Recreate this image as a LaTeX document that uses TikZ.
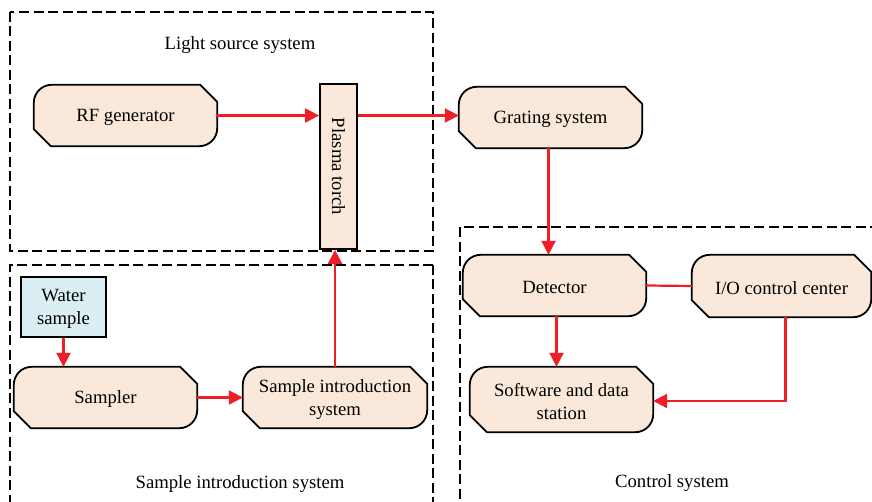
\documentclass[tikz,border=0pt]{standalone}
\usepackage{fontspec}
\setmainfont{Liberation Serif}
\usetikzlibrary{arrows.meta,backgrounds}

\definecolor{boxfill}{RGB}{250,233,218}
\definecolor{waterfill}{RGB}{218,238,243}
\definecolor{linkred}{RGB}{237,30,38}

% corner sizes of the process boxes: rounded NW/SE, chamfered NE/SW
\newlength\procr \setlength\procr{18pt}
\newlength\procq \setlength\procq{8pt}% control offset, about 0.45 r
\newlength\procc \setlength\procc{17pt}
\newcommand\procoutline[1]{%
  \filldraw[procline]
    ([yshift=-\procr]#1.north west)
      .. controls ([yshift=-\procq]#1.north west) and ([xshift=\procq]#1.north west)
      .. ([xshift=\procr]#1.north west)
    -- ([xshift=-\procc]#1.north east) -- ([yshift=-\procc]#1.north east)
    -- ([yshift=\procr]#1.south east)
      .. controls ([yshift=\procq]#1.south east) and ([xshift=-\procq]#1.south east)
      .. ([xshift=-\procr]#1.south east)
    -- ([xshift=\procc]#1.south west) -- ([yshift=\procc]#1.south west) -- cycle;}

\tikzset{
  txt/.style={font=\fontsize{18.7}{23}\selectfont, align=center},
  boxtext/.style={txt, inner sep=0pt, yshift=-2pt},
  proc/.style={inner sep=0pt, minimum width=183pt, minimum height=61pt,
               label={[boxtext]center:#1}},
  procline/.style={draw=black, fill=boxfill, line width=1.8pt, line join=round},
  plainbox/.style={draw=black, line width=1.8pt, inner sep=0pt},
  group/.style={draw=black, line width=1.8pt, dash pattern=on 10pt off 4.5pt},
  link/.style={draw=linkred, line width=2.2pt},
  flow/.style={link, -{Triangle[length=14pt,width=14pt]}},
}

\begin{document}
\begin{tikzpicture}[x=1pt,y=-1pt]
  \useasboundingbox (0,0) rectangle (872,502);

  % dashed subsystem frames
  \draw[group] (10,12) rectangle (433,251);
  \draw[group] (433,265) -- (10,265) -- (10,510);
  \draw[group] (433,265) -- (433,510);
  \draw[group] (880,227) -- (460,227) -- (460,510);

  \node[boxtext] (lslabel) at (240,43) {Light source system};
  \node[boxtext] (silabel) at (240,482) {Sample introduction system};
  \node[boxtext] (cslabel) at (672,481) {Control system};

  % process boxes (outlines are drawn behind them)
  \node[proc={RF generator}] (rf) at (125.5,115.5) {};
  \node[proc={Grating system}] (grating) at (550.5,117.5) {};
  \node[proc={Detector}] (det) at (554.5,285.5) {};
  \node[proc={I/O control center}, minimum width=179pt, minimum height=62pt] (io) at (781.5,286) {};
  \node[proc={Sampler}] (sampler) at (105.5,397.5) {};
  \node[proc={Sample introduction\\system}, minimum width=184pt] (sis) at (335,397.5) {};
  \node[proc={Software and data\\station}, minimum height=65pt] (soft) at (561.5,399.5) {};

  \begin{pgfonlayer}{background}
    \foreach \n in {rf,grating,det,io,sampler,sis,soft} {\procoutline{\n}}
  \end{pgfonlayer}

  \node[plainbox, fill=boxfill, minimum width=37pt, minimum height=165pt,
        font=\fontsize{18.7}{23}\selectfont] (torch) at (338.5,166.5)
    {\rotatebox{-90}{Plasma torch}};
  \node[plainbox, fill=waterfill, minimum width=85pt, minimum height=60pt,
        label={[boxtext]center:Water\\sample}] (water) at (63.5,307) {};

  % connections
  \draw[flow] (rf.east) -- (rf.east -| torch.west);
  \draw[flow] (rf.east -| torch.east) -- (rf.east -| grating.west);
  \draw[flow] ([xshift=-2pt]grating.south) -- ([xshift=-2pt]grating.south |- det.north);
  \draw[flow] (sis.north) -- (sis.north |- torch.south);
  \draw[flow] (water.south) -- (water.south |- sampler.north);
  \draw[flow] (sampler.east) -- (sampler.east -| sis.west);
  \draw[link] (det.east) -- (io.west);
  \draw[flow] ([xshift=2pt]det.south) -- ([xshift=2pt]det.south |- soft.north);
  \draw[flow] ([xshift=4pt]io.south) |- ([yshift=-1.5pt]soft.east);
\end{tikzpicture}
\end{document}
